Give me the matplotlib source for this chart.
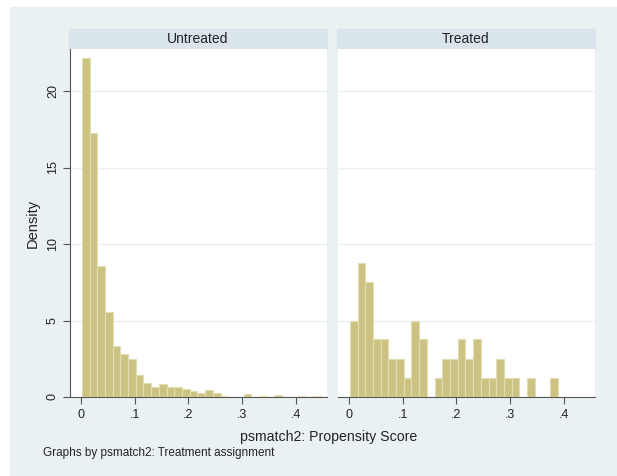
import matplotlib.pyplot as plt
from matplotlib.patches import Rectangle

# histogram bins shared by both panels
bin_start = 0.0015
bin_width = 0.01435

untreated = [22.15, 17.27, 8.58, 5.58, 3.33, 2.81, 2.46, 1.44, 0.94, 0.63,
             0.85, 0.63, 0.68, 0.54, 0.39, 0.24, 0.46, 0.26, 0.09, 0.03,
             0.0, 0.17, 0.0, 0.05, 0.0, 0.12, 0.0, 0.0, 0.05, 0.0, 0.04]
treated = [5.0, 8.77, 7.52, 3.76, 3.76, 2.51, 2.51, 1.25, 5.0, 3.76,
           0.0, 1.25, 2.51, 2.51, 3.76, 2.51, 3.76, 1.25, 1.25, 2.51,
           1.25, 1.25, 0.0, 1.25, 0.0, 0.0, 1.25]
panels = ["Untreated", "Treated"]
xticks = [0, 0.1, 0.2, 0.3, 0.4]
xticklabels = ["0", ".1", ".2", ".3", ".4"]
yticks = [0, 5, 10, 15, 20]

W, H = 617, 476
bg = "#EAF1F3"
strip = "#D9E5EB"
bar_face = "#CCC383"
bar_edge = "#E2DDAE"
axis_col = "#555555"
font = ["Liberation Sans", "DejaVu Sans"]
plt.rcParams["font.family"] = font

fig = plt.figure(figsize=(W / 100, H / 100), dpi=100)
fig.patch.set_facecolor("white")
fig.add_artist(Rectangle((10 / W, 0), 1 - 10 / W, 1 - 7 / H,
                         transform=fig.transFigure, color=bg, zorder=-10))

lefts = [70, 338]
for i, (name, vals) in enumerate(zip(panels, [untreated, treated])):
    x0 = lefts[i]
    ax = fig.add_axes([x0 / W, (H - 397) / H, 257 / W, 348 / H])
    ax.set_facecolor("white")
    edges = [bin_start + k * bin_width for k in range(len(vals))]
    ax.bar(edges, vals, width=bin_width, align="edge", color=bar_face,
           edgecolor=bar_edge, linewidth=0.8, zorder=3)
    ax.set_xlim(-0.0205, 0.458)
    ax.set_ylim(0, 22.75)
    ax.set_yticks(yticks)
    for y in yticks[1:]:
        ax.axhline(y, color=bg, lw=1.0, zorder=1)
    ax.set_xticks(xticks)
    ax.set_xticklabels(xticklabels, fontsize=9)
    for s in ["top", "right"]:
        ax.spines[s].set_visible(False)
    ax.spines["bottom"].set_color(axis_col)
    ax.spines["left"].set_color(axis_col)
    ax.tick_params(axis="both", direction="out", length=5, color=axis_col,
                   labelcolor="#222222")
    ax.tick_params(axis="x", pad=4)
    if i == 0:
        ax.set_yticklabels([str(t) for t in yticks], fontsize=9,
                           rotation=90, va="center")
        ax.tick_params(axis="y", pad=3)
        ax.set_ylabel("Density", fontsize=10.5, color="#222222", labelpad=5)
    else:
        ax.spines["left"].set_visible(False)
        ax.tick_params(axis="y", left=False, labelleft=False)
    # panel header strip
    fig.add_artist(Rectangle((x0 / W - 1 / W, (H - 49) / H), 258 / W, 20 / H,
                             transform=fig.transFigure, color=strip, zorder=-5))
    fig.text((x0 + 128) / W, (H - 39) / H, name, ha="center", va="center",
             fontsize=10, color="#222222")

fig.text(329 / W, (H - 437) / H, "psmatch2: Propensity Score", ha="center",
         va="center", fontsize=10.2, color="#222222")
fig.text(43 / W, (H - 453) / H, "Graphs by psmatch2: Treatment assignment",
         ha="left", va="center", fontsize=8.5, color="#222222")

fig.savefig("out.png", dpi=100)
